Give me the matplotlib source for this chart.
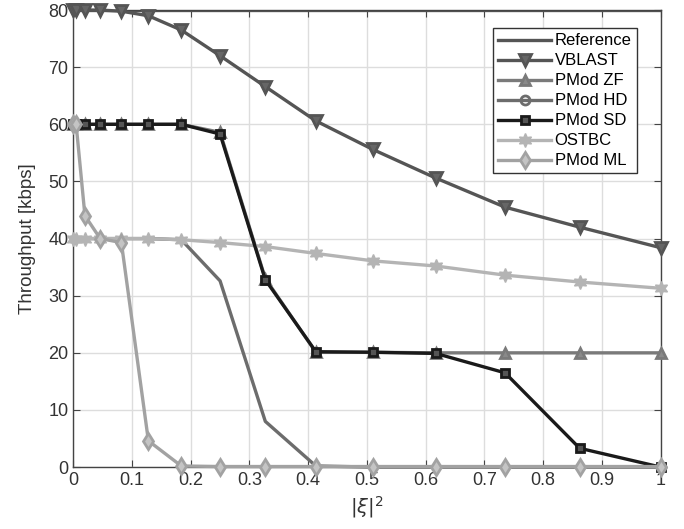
import matplotlib.pyplot as plt
import numpy as np

plt.rcParams['font.family'] = ['Liberation Sans', 'DejaVu Sans']

# |xi|^2 sample points
xi2 = [0.0, 0.005, 0.02, 0.046, 0.082, 0.128, 0.184, 0.25, 0.327, 0.413,
       0.51, 0.617, 0.735, 0.862, 1.0]

reference = [80] * 15
vblast = [80, 80, 80, 80, 79.8, 79.0, 76.5, 72.0, 66.6, 60.6, 55.6, 50.6, 45.5, 42.0, 38.4]
pmod_zf = [60, 60, 60, 60, 60, 60, 60, 58.6, 33.0, 20.1, 20.1, 20.0, 20.0, 20.0, 20.0]
pmod_hd = [40, 40, 40, 40, 40, 40, 39.8, 32.6, 8.0, 0.2, 0, 0, 0, 0, 0]
pmod_sd = [60, 60, 60, 60, 60, 60, 60, 58.3, 32.8, 20.2, 20.1, 19.9, 16.5, 3.3, 0.0]
ostbc = [40, 40, 40, 40, 40, 40, 39.8, 39.3, 38.6, 37.4, 36.1, 35.2, 33.6, 32.4, 31.3]
pmod_ml = [60, 60, 44, 40, 39.3, 4.6, 0.2, 0.1, 0.1, 0.1, 0.1, 0.1, 0.1, 0.1, 0.1]

fig = plt.figure(figsize=(6.84, 5.29), dpi=100)
ax = fig.add_axes([0.107, 0.117, 0.859, 0.864])

lw = 2.4
ax.plot(xi2, reference, color='#555555', lw=lw, label='Reference', zorder=2)
ax.plot(xi2, vblast, color='#555555', lw=lw, marker='v', ms=8, mfc='#666666', mew=2,
        label='VBLAST', zorder=3, clip_on=False)
ax.plot(xi2, pmod_zf, color='#7a7a7a', lw=lw, marker='^', ms=7.5, mfc='#8a8a8a', mew=2,
        label='PMod ZF', zorder=3, clip_on=False)
ax.plot(xi2, pmod_hd, color='#6c6c6c', lw=lw, marker='o', ms=6.5, mfc='none', mew=2,
        markevery=[14], label='PMod HD', zorder=3, clip_on=False)
ax.plot(xi2, pmod_sd, color='#1a1a1a', lw=lw, marker='s', ms=6, mfc='#555555', mew=2,
        label='PMod SD', zorder=4, clip_on=False)
ax.plot(xi2, ostbc, color='#b4b4b4', lw=lw, marker=(6, 1, 0), ms=10, mfc='#b4b4b4', mew=1,
        label='OSTBC', zorder=3, clip_on=False)
ax.plot(xi2, pmod_ml, color='#a2a2a2', lw=lw, marker='d', ms=8, mfc='#c4c4c4', mew=2,
        label='PMod ML', zorder=4, clip_on=False)

ax.set_xlim(0, 1)
ax.set_ylim(0, 80)
ax.set_xticks(np.arange(0, 1.01, 0.1))
ax.set_xticklabels(['0', '0.1', '0.2', '0.3', '0.4', '0.5', '0.6', '0.7', '0.8', '0.9', '1'])
ax.set_yticks(np.arange(0, 81, 10))
ax.grid(True, color='#dddddd', lw=1)
ax.set_axisbelow(True)
ax.tick_params(direction='in', top=True, right=True, labelsize=13, length=5,
               color='#444444', labelcolor='#333333')
for s in ax.spines.values():
    s.set_color('#444444')
    s.set_linewidth(1)

ax.set_ylabel('Throughput [kbps]', fontsize=13.5, color='#333333', labelpad=9)
ax.set_xlabel(r'$|\xi|^2$', fontsize=14, color='#333333')

leg = ax.legend(loc='upper right', bbox_to_anchor=(0.973, 0.978), fontsize=12,
                handlelength=3.2, handletextpad=0.2, borderpad=0.3, labelspacing=0.3,
                fancybox=False, framealpha=1, edgecolor='#333333')
leg.get_frame().set_linewidth(1)

fig.savefig('out.png', dpi=100)
